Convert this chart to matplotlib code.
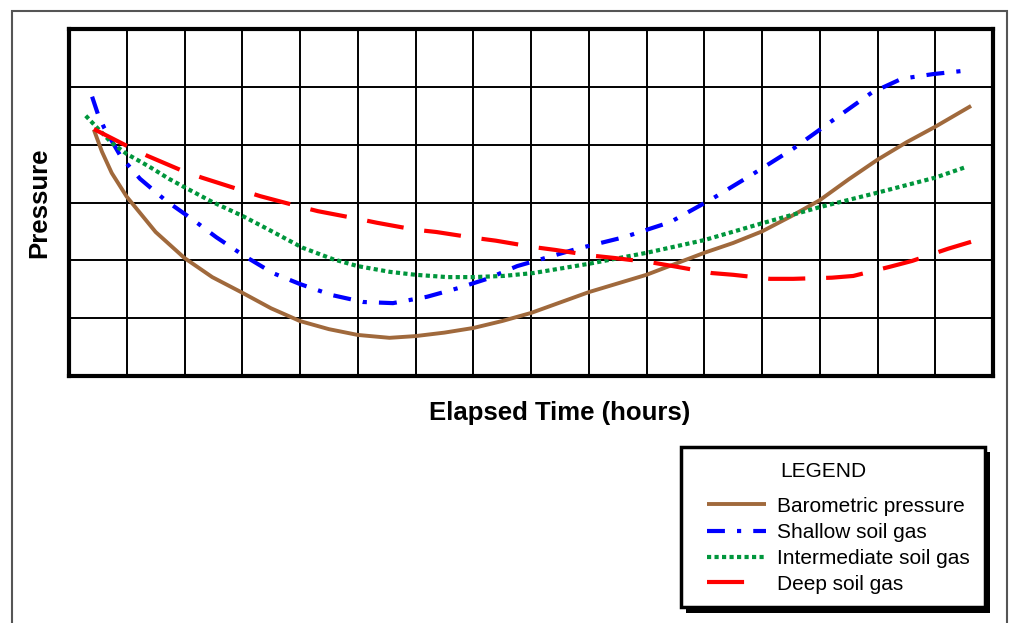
import matplotlib
matplotlib.use("Agg")
import matplotlib.pyplot as plt
from matplotlib.lines import Line2D
from matplotlib.patches import Rectangle

plt.rcParams['font.family'] = ['Liberation Sans', 'DejaVu Sans']

# ---------------------------------------------------------------------------
# Data (x = elapsed time in grid units, y = pressure)
# ---------------------------------------------------------------------------
baro_t = [0.43, 0.57, 0.74, 1.0, 1.5, 2.0, 2.48, 3.0, 3.5, 4.0, 4.5, 5.0,
          5.55, 6.0, 6.5, 7.0, 7.5, 8.0, 9.0, 10.0, 11.0, 11.5, 12.0, 12.5,
          13.0, 13.5, 14.0, 14.5, 15.0, 15.62]
baro_p = [4.26, 3.88, 3.51, 3.10, 2.49, 2.04, 1.71, 1.44, 1.17, 0.95, 0.81,
          0.71, 0.66, 0.69, 0.75, 0.83, 0.95, 1.09, 1.45, 1.75, 2.13, 2.30,
          2.50, 2.76, 3.04, 3.40, 3.74, 4.04, 4.31, 4.67]

shallow_t = [0.40, 0.50, 0.61, 0.90, 1.23, 1.68, 2.15, 2.55, 3.03, 3.53, 4.0,
             4.55, 5.09, 5.61, 6.2, 6.74, 7.24, 7.76, 8.8, 9.61, 10.41, 11.13,
             11.84, 12.54, 13.21, 13.9, 14.42, 14.96, 15.52]
shallow_p = [4.83, 4.53, 4.29, 3.79, 3.41, 3.03, 2.70, 2.40, 2.08, 1.78, 1.59,
             1.40, 1.28, 1.26, 1.37, 1.52, 1.68, 1.90, 2.20, 2.40, 2.66, 3.06,
             3.49, 3.93, 4.41, 4.90, 5.14, 5.22, 5.28]

inter_t = [0.29, 0.47, 0.74, 1.0, 1.39, 1.73, 1.99, 2.48, 3.0, 3.46, 4.04,
           4.57, 5.0, 5.56, 6.0, 6.55, 7.0, 7.52, 8.04, 9.0, 10.0, 11.0, 12.0,
           13.0, 14.0, 15.0, 15.55]
inter_p = [4.50, 4.31, 4.03, 3.84, 3.62, 3.41, 3.27, 3.01, 2.77, 2.53, 2.22,
           2.02, 1.90, 1.80, 1.75, 1.71, 1.71, 1.73, 1.78, 1.94, 2.13, 2.35,
           2.64, 2.92, 3.17, 3.43, 3.62]

deep_t = [0.43, 1.0, 1.35, 1.96, 2.3, 2.96, 3.31, 3.95, 4.31, 4.99, 5.33,
          5.99, 6.36, 7.01, 7.39, 8.04, 8.42, 9.07, 9.45, 10.11, 10.46, 11.13,
          11.5, 12.14, 12.54, 13.21, 13.58, 14.22, 14.6, 15.22, 15.62]
deep_p = [4.27, 3.98, 3.81, 3.55, 3.43, 3.22, 3.11, 2.94, 2.85, 2.72, 2.65,
          2.53, 2.49, 2.39, 2.34, 2.23, 2.18, 2.08, 2.04, 1.96, 1.90, 1.78,
          1.75, 1.68, 1.68, 1.70, 1.73, 1.89, 1.99, 2.20, 2.32]

labels = ['Barometric pressure', 'Shallow soil gas',
          'Intermediate soil gas', 'Deep soil gas']

styles = [
    dict(color='#A0693C', lw=2.8, ls='-'),
    dict(color='#0000FF', lw=3.0, ls=(0, (4.3, 2.9, 1.0, 2.9))),
    dict(color='#00963C', lw=3.0, ls=(0, (1.0, 0.8))),
    dict(color='#FF0000', lw=3.0, ls=(0, (8.9, 5.0))),
]

W, H = 1010, 623
fig = plt.figure(figsize=(W / 100, H / 100), dpi=100)


def fx(px):
    return px / W


def fy(py):
    return 1 - py / H


ax = fig.add_axes([fx(69), fy(376), fx(993) - fx(69), fy(29) - fy(376)])

series = [(baro_t, baro_p), (shallow_t, shallow_p),
          (inter_t, inter_p), (deep_t, deep_p)]
for (t, p), st in zip(series, styles):
    ax.plot(t, p, solid_capstyle='butt', dash_capstyle='butt',
            solid_joinstyle='round', **st)

ax.set_xlim(0, 16)
ax.set_ylim(0, 6)
ax.set_xticks(range(17))
ax.set_yticks(range(7))
ax.tick_params(length=0, labelbottom=False, labelleft=False)
ax.grid(True, color='black', lw=1.4)
ax.set_axisbelow(True)
for s in ax.spines.values():
    s.set_linewidth(3)
    s.set_color('black')

fig.text(fx(560), fy(413), 'Elapsed Time (hours)', fontsize=18.5,
         fontweight='bold', ha='center', va='center')
fig.text(fx(39), fy(203), 'Pressure', fontsize=18.5, fontweight='bold',
         rotation=90, ha='center', va='center')

# outer frame
fig.patches.append(Rectangle((fx(12), fy(640)), fx(1007) - fx(12),
                             fy(11) - fy(640), transform=fig.transFigure,
                             fill=False, edgecolor='#555555', lw=1.5))

# legend box with drop shadow
fig.patches.append(Rectangle((fx(686), fy(613)), fx(990) - fx(686),
                             fy(452) - fy(613), transform=fig.transFigure,
                             facecolor='black', edgecolor='black', lw=0))
fig.patches.append(Rectangle((fx(681), fy(607)), fx(985) - fx(681),
                             fy(447) - fy(607), transform=fig.transFigure,
                             facecolor='white', edgecolor='black', lw=2.5))
fig.text(fx(823), fy(477), 'LEGEND', fontsize=15, ha='center', va='baseline')

row_y = [504, 530.5, 557, 582]
row_end = [766, 766, 766, 758]
for lab, st, y, xe in zip(labels, styles, row_y, row_end):
    fig.lines.append(Line2D([fx(707), fx(xe)], [fy(y), fy(y)],
                            transform=fig.transFigure,
                            solid_capstyle='butt', dash_capstyle='butt', **st))
    fig.text(fx(777), fy(y + 7.5), lab, fontsize=15, ha='left', va='baseline')

fig.savefig('out.png', dpi=100)
